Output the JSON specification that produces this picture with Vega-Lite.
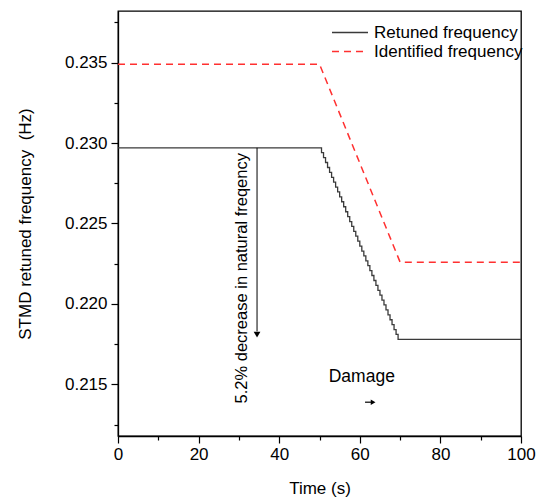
{
  "$schema": "https://vega.github.io/schema/vega-lite/v6.json",
  "width": 403,
  "height": 425,
  "autosize": {"type": "none"},
  "padding": {"left": 118, "top": 11, "right": 16, "bottom": 65},
  "config": {
    "font": "Liberation Sans",
    "view": {"stroke": "black", "strokeWidth": 1.3},
    "axis": {
      "grid": false,
      "domainColor": "black",
      "domainWidth": 1.3,
      "tickColor": "black",
      "tickWidth": 1.2,
      "labelColor": "black",
      "titleColor": "black",
      "labelFontSize": 17,
      "titleFontSize": 17,
      "titleFontWeight": "normal",
      "labelFont": "Liberation Sans",
      "titleFont": "Liberation Sans"
    },
    "legend": {
      "labelFont": "Liberation Sans"
    }
  },
  "datasets": {
    "freq": [
      {"t": 0, "f": 0.2297, "series": "Retuned frequency"},
      {"t": 50, "f": 0.2297, "series": "Retuned frequency"},
      {"t": 50.5, "f": 0.22940, "series": "Retuned frequency"},
      {"t": 51, "f": 0.22909, "series": "Retuned frequency"},
      {"t": 51.5, "f": 0.22879, "series": "Retuned frequency"},
      {"t": 52, "f": 0.22848, "series": "Retuned frequency"},
      {"t": 52.5, "f": 0.22818, "series": "Retuned frequency"},
      {"t": 53, "f": 0.22787, "series": "Retuned frequency"},
      {"t": 53.5, "f": 0.22757, "series": "Retuned frequency"},
      {"t": 54, "f": 0.22726, "series": "Retuned frequency"},
      {"t": 54.5, "f": 0.22696, "series": "Retuned frequency"},
      {"t": 55, "f": 0.22665, "series": "Retuned frequency"},
      {"t": 55.5, "f": 0.22635, "series": "Retuned frequency"},
      {"t": 56, "f": 0.22604, "series": "Retuned frequency"},
      {"t": 56.5, "f": 0.22573, "series": "Retuned frequency"},
      {"t": 57, "f": 0.22543, "series": "Retuned frequency"},
      {"t": 57.5, "f": 0.22512, "series": "Retuned frequency"},
      {"t": 58, "f": 0.22482, "series": "Retuned frequency"},
      {"t": 58.5, "f": 0.22451, "series": "Retuned frequency"},
      {"t": 59, "f": 0.22421, "series": "Retuned frequency"},
      {"t": 59.5, "f": 0.22390, "series": "Retuned frequency"},
      {"t": 60, "f": 0.22360, "series": "Retuned frequency"},
      {"t": 60.5, "f": 0.22329, "series": "Retuned frequency"},
      {"t": 61, "f": 0.22299, "series": "Retuned frequency"},
      {"t": 61.5, "f": 0.22268, "series": "Retuned frequency"},
      {"t": 62, "f": 0.22238, "series": "Retuned frequency"},
      {"t": 62.5, "f": 0.22207, "series": "Retuned frequency"},
      {"t": 63, "f": 0.22177, "series": "Retuned frequency"},
      {"t": 63.5, "f": 0.22146, "series": "Retuned frequency"},
      {"t": 64, "f": 0.22116, "series": "Retuned frequency"},
      {"t": 64.5, "f": 0.22085, "series": "Retuned frequency"},
      {"t": 65, "f": 0.22055, "series": "Retuned frequency"},
      {"t": 65.5, "f": 0.22024, "series": "Retuned frequency"},
      {"t": 66, "f": 0.21994, "series": "Retuned frequency"},
      {"t": 66.5, "f": 0.21963, "series": "Retuned frequency"},
      {"t": 67, "f": 0.21933, "series": "Retuned frequency"},
      {"t": 67.5, "f": 0.21902, "series": "Retuned frequency"},
      {"t": 68, "f": 0.21872, "series": "Retuned frequency"},
      {"t": 68.5, "f": 0.21841, "series": "Retuned frequency"},
      {"t": 69, "f": 0.21811, "series": "Retuned frequency"},
      {"t": 69.5, "f": 0.21780, "series": "Retuned frequency"},
      {"t": 100, "f": 0.21780, "series": "Retuned frequency"},
      {"t": 0, "f": 0.2349, "series": "Identified frequency"},
      {"t": 50, "f": 0.2349, "series": "Identified frequency"},
      {"t": 70, "f": 0.2226, "series": "Identified frequency"},
      {"t": 100, "f": 0.2226, "series": "Identified frequency"}
    ]
  },
  "layer": [
    {
      "mark": {"type": "rule", "color": "black", "strokeWidth": 1, "strokeDash": [3, 3]},
      "encoding": {"x": {"datum": 50, "type": "quantitative"}}
    },
    {
      "data": {"name": "freq"},
      "transform": [{"filter": "datum.series === 'Retuned frequency'"}],
      "mark": {"type": "line", "interpolate": "step-after", "strokeWidth": 1.3},
      "encoding": {
        "x": {
          "field": "t", "type": "quantitative",
          "scale": {"domain": [0, 100], "nice": false},
          "axis": {
            "title": "Time (s)",
            "values": [0, 10, 20, 30, 40, 50, 60, 70, 80, 90, 100],
            "labelExpr": "datum.value % 20 === 0 ? datum.label : ''",
            "tickSize": {"condition": {"test": "datum.value % 20 !== 0", "value": 4}, "value": 7},
            "labelPadding": 3,
            "titlePadding": 18,
            "labelFlush": false
          }
        },
        "y": {
          "field": "f", "type": "quantitative",
          "scale": {"domain": [0.2118, 0.2382], "nice": false, "zero": false},
          "axis": {
            "title": "STMD retuned frequency \u00a0(Hz)",
            "values": [0.2125, 0.215, 0.2175, 0.22, 0.2225, 0.225, 0.2275, 0.23, 0.2325, 0.235, 0.2375],
            "labelExpr": "round(datum.value * 10000) % 50 === 0 ? format(datum.value, '.3f') : ''",
            "tickSize": {"condition": {"test": "round(datum.value * 10000) % 50 !== 0", "value": 4}, "value": 7},
            "labelPadding": 4,
            "titlePadding": 30
          }
        },
        "color": {
          "field": "series", "type": "nominal",
          "scale": {"domain": ["Retuned frequency", "Identified frequency"], "range": ["#3a3a3a", "#ff3030"]},
          "legend": {
            "title": null, "orient": "none", "legendX": 213, "legendY": 12,
            "symbolType": "stroke", "symbolSize": 1296, "symbolStrokeWidth": 1.5,
            "labelFontSize": 17, "labelColor": "black", "rowPadding": 0, "labelOffset": 5,
            "clipHeight": 19
          }
        },
        "strokeDash": {
          "field": "series", "type": "nominal",
          "scale": {"domain": ["Retuned frequency", "Identified frequency"], "range": [[1, 0], [7, 5]]},
          "legend": {
            "title": null, "orient": "none", "legendX": 213, "legendY": 12,
            "symbolType": "stroke", "symbolSize": 1296, "symbolStrokeWidth": 1.5,
            "labelFontSize": 17, "labelColor": "black", "rowPadding": 0, "labelOffset": 5,
            "clipHeight": 19
          }
        }
      }
    },
    {
      "data": {"name": "freq"},
      "transform": [{"filter": "datum.series === 'Identified frequency'"}],
      "mark": {"type": "line", "interpolate": "linear", "strokeWidth": 1.5},
      "encoding": {
        "x": {"field": "t", "type": "quantitative"},
        "y": {"field": "f", "type": "quantitative"},
        "color": {"field": "series", "type": "nominal"},
        "strokeDash": {"field": "series", "type": "nominal"}
      }
    },
    {
      "data": {"values": [{"x": 34.5, "y": 0.2297, "y2": 0.2183}]},
      "mark": {"type": "rule", "color": "black", "strokeWidth": 1},
      "encoding": {
        "x": {"field": "x", "type": "quantitative"},
        "y": {"field": "y", "type": "quantitative"},
        "y2": {"field": "y2"}
      }
    },
    {
      "data": {"values": [{"x": 34.5, "y": 0.2181}]},
      "mark": {"type": "point", "shape": "triangle-down", "filled": true, "color": "black", "size": 45, "opacity": 1},
      "encoding": {
        "x": {"field": "x", "type": "quantitative"},
        "y": {"field": "y", "type": "quantitative"}
      }
    },
    {
      "data": {"values": [{"x": 30.8, "y": 0.2216, "label": "5.2% decrease in natural freqency"}]},
      "mark": {"type": "text", "angle": 270, "align": "center", "baseline": "middle", "fontSize": 16.5, "color": "black"},
      "encoding": {
        "x": {"field": "x", "type": "quantitative"},
        "y": {"field": "y", "type": "quantitative"},
        "text": {"field": "label"}
      }
    },
    {
      "data": {"values": [{"x": 60.5, "y": 0.21544, "label": "Damage"}]},
      "mark": {"type": "text", "align": "center", "baseline": "middle", "fontSize": 17.5, "color": "black"},
      "encoding": {
        "x": {"field": "x", "type": "quantitative"},
        "y": {"field": "y", "type": "quantitative"},
        "text": {"field": "label"}
      }
    },
    {
      "data": {"values": [{"x": 61.3, "x2": 63.2, "y": 0.2139}]},
      "mark": {"type": "rule", "color": "black", "strokeWidth": 1.2},
      "encoding": {
        "x": {"field": "x", "type": "quantitative"},
        "x2": {"field": "x2"},
        "y": {"field": "y", "type": "quantitative"}
      }
    },
    {
      "data": {"values": [{"x": 63.3, "y": 0.2139}]},
      "mark": {"type": "point", "shape": "triangle-right", "filled": true, "color": "black", "size": 30, "opacity": 1},
      "encoding": {
        "x": {"field": "x", "type": "quantitative"},
        "y": {"field": "y", "type": "quantitative"}
      }
    }
  ]
}
